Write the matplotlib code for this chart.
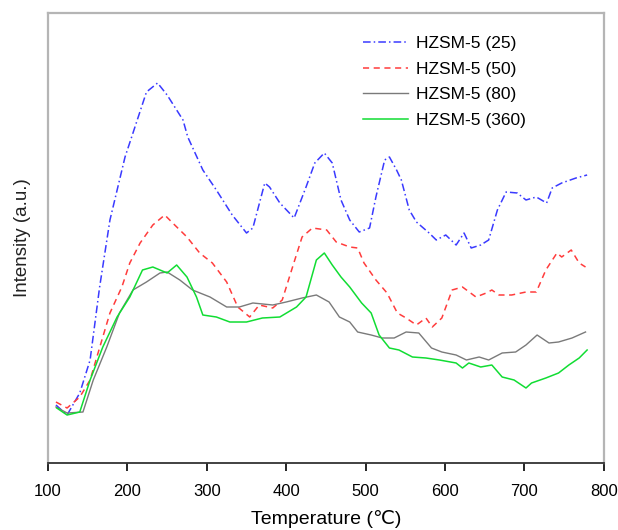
"""TPD-style intensity curves for HZSM-5 samples with different Si/Al ratio."""
import matplotlib
matplotlib.use("Agg")
import matplotlib.pyplot as plt
import numpy as np

plt.rcParams['font.family'] = ['Liberation Sans', 'DejaVu Sans']

# temperature (C) / intensity (a.u.)
t25 = [110, 124, 140, 153, 165, 178, 197, 207, 224, 238, 250, 270, 276, 295, 312, 332, 350, 358,
       373, 379, 392, 410, 425, 436, 448, 458, 469, 480, 492, 505, 513, 524, 530, 539, 545, 555,
       564, 580, 589, 601, 614, 624, 633, 645, 655, 666, 677, 691, 702, 715, 728, 735, 747, 765, 779]
i25 = [58, 48, 70, 103, 176, 243, 306, 330, 371, 380, 368, 343, 326, 293, 273, 248, 230, 235,
       280, 276, 260, 245, 276, 300, 310, 300, 263, 243, 231, 235, 266, 303, 306, 293, 283, 253,
       241, 230, 223, 228, 218, 230, 215, 218, 223, 253, 271, 270, 263, 266, 260, 275, 280, 285, 288]

t50 = [110, 124, 140, 153, 163, 178, 193, 203, 216, 232, 247, 257, 275, 291, 307, 325, 339, 354,
       366, 383, 395, 408, 420, 433, 451, 463, 480, 490, 498, 513, 527, 540, 551, 564, 576, 584,
       596, 609, 622, 639, 652, 659, 668, 684, 702, 715, 727, 741, 747, 759, 769, 777]
i50 = [61, 55, 66, 83, 110, 150, 176, 200, 220, 238, 248, 240, 226, 210, 200, 181, 156, 146,
       158, 155, 163, 196, 226, 235, 233, 221, 216, 215, 200, 183, 170, 150, 145, 138, 145, 136,
       145, 173, 176, 166, 170, 173, 168, 168, 171, 171, 193, 210, 206, 213, 200, 196]

t80 = [110, 124, 144, 157, 174, 190, 207, 224, 241, 250, 266, 282, 304, 325, 341, 358, 383, 400,
       420, 438, 454, 467, 480, 490, 507, 521, 536, 551, 567, 583, 596, 614, 627, 643, 655, 672,
       689, 702, 716, 731, 743, 760, 777]
i80 = [56, 50, 51, 83, 116, 150, 173, 181, 190, 191, 183, 173, 166, 156, 156, 160, 158, 161,
       165, 168, 161, 146, 141, 131, 128, 125, 125, 131, 130, 115, 111, 108, 103, 106, 103, 110,
       111, 118, 128, 120, 121, 125, 131]

t360 = [111, 124, 140, 153, 169, 187, 203, 219, 232, 250, 262, 275, 287, 295, 312, 329, 350, 370,
        392, 413, 425, 438, 448, 458, 469, 480, 495, 507, 517, 530, 542, 559, 576, 593, 614, 622,
        630, 645, 659, 672, 687, 702, 709, 727, 743, 756, 769, 779]
i360 = [55, 48, 51, 83, 116, 146, 166, 193, 196, 190, 198, 186, 166, 148, 146, 141, 141, 145,
        146, 156, 166, 203, 210, 198, 186, 176, 160, 150, 128, 115, 113, 106, 105, 103, 100, 95,
        100, 96, 98, 86, 83, 75, 80, 85, 90, 98, 105, 113]

labels = ["HZSM-5 (25)", "HZSM-5 (50)", "HZSM-5 (80)", "HZSM-5 (360)"]

fig = plt.figure(figsize=(6.18, 5.30), dpi=100)
ax = fig.add_axes([0.0777, 0.1264, 0.8993, 0.8491])
ax.plot(t25, i25, color="#3a3aff", lw=1.1, ls=(0, (5, 2, 1, 2)), label=labels[0])
ax.plot(t50, i50, color="#ff3c3c", lw=1.1, ls=(0, (4, 3)), label=labels[1])
ax.plot(t80, i80, color="#7a7a7a", lw=1.0, label=labels[2])
ax.plot(t360, i360, color="#11dd33", lw=1.1, label=labels[3])

ax.set_xlim(100, 800); ax.set_ylim(0, 450)
ax.set_xticks(np.arange(100, 801, 100))
ax.set_yticks([])
ax.tick_params(axis="x", direction="out", length=6, width=1.2, labelsize=12, pad=9)
for s in ["left", "top", "right"]:
    ax.spines[s].set_color("#b5b5b5"); ax.spines[s].set_linewidth(1.6)
ax.spines["bottom"].set_color("#333333"); ax.spines["bottom"].set_linewidth(1.3)
ax.set_xlabel("Temperature (℃)", fontsize=14, labelpad=8)
ax.set_ylabel("Intensity (a.u.)", fontsize=13.5, labelpad=12, color="#222222")
ax.legend(loc="upper left", bbox_to_anchor=(0.567, 0.949), frameon=False, fontsize=12.5,
          handlelength=2.6, handletextpad=0.45, labelspacing=0.6, borderaxespad=0, borderpad=0)
fig.savefig("out.png", dpi=100)
